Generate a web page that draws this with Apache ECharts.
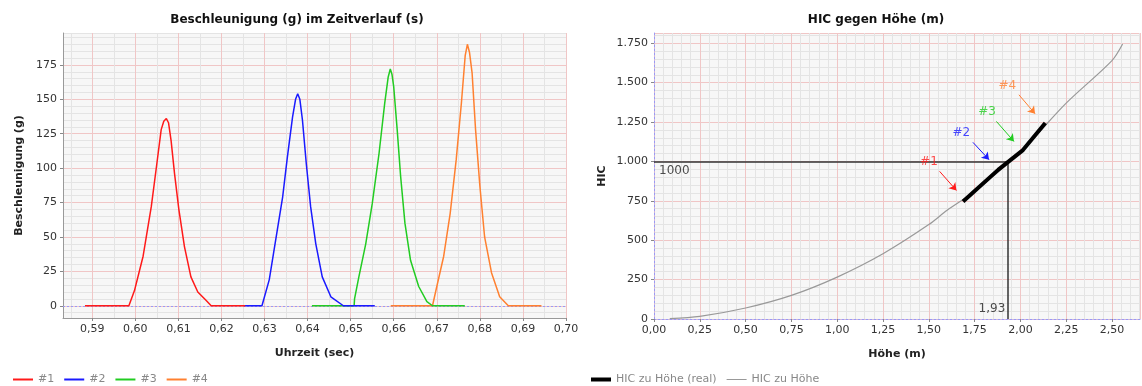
<!DOCTYPE html>
<html><head><meta charset="utf-8">
<script src="https://cdn.jsdelivr.net/npm/echarts@6/dist/echarts.min.js"></script>
<style>html,body{margin:0;padding:0;background:#fff}#c{width:1142px;height:386px}</style>
</head><body><div id="c"></div>
<script>
// ---------- data ----------
const accelNames = ['#1', '#2', '#3', '#4'];
const accel1 = [[0.5883,0],[0.5985,0],[0.5998,11],[0.6018,36],[0.6037,72],[0.6049,101],[0.6060,128],[0.6066,134],[0.6072,136],[0.6077,133],[0.6083,120],[0.6091,96],[0.6101,70],[0.6114,43],[0.6129,21],[0.6145,10],[0.6164,4],[0.6176,0],[0.6255,0]];
const accel2 = [[0.6253,0],[0.6294,0],[0.6311,19],[0.6326,48],[0.6342,79],[0.6353,108],[0.6365,137],[0.6372,150],[0.6377,154],[0.6382,150],[0.6388,135],[0.6397,103],[0.6407,72],[0.6419,45],[0.6434,21],[0.6454,6.5],[0.6483,0],[0.6556,0]];
const accel3 = [[0.6410,0],[0.6508,0],[0.6509,5],[0.6519,21],[0.6535,45],[0.6550,74],[0.6566,111],[0.6579,147],[0.6587,166],[0.6592,172],[0.6596,168],[0.6600,159],[0.6608,128],[0.6616,94],[0.6626,60],[0.6639,33],[0.6658,14],[0.6677,3],[0.6690,0],[0.6765,0]];
const accel4 = [[0.6593,0],[0.6690,0],[0.6700,14],[0.6716,36],[0.6731,67],[0.6745,106],[0.6757,147],[0.6766,182],[0.6771,190],[0.6776,184],[0.6782,169],[0.6790,128],[0.6800,87],[0.6811,50],[0.6827,24],[0.6846,6.5],[0.6866,0],[0.6943,0]];
const accelTicksX = [0.59,0.60,0.61,0.62,0.63,0.64,0.65,0.66,0.67,0.68,0.69,0.70];
const accelTicksY = [0,25,50,75,100,125,150,175];

const hicNames = ['HIC zu Höhe (real)', 'HIC zu Höhe'];
const hicCurve = [[0.086,3],[0.25,17],[0.50,70],[0.75,150],[1.00,266],[1.25,414],[1.50,599],[1.60,690],[1.75,810],[2.00,1060],[2.25,1370],[2.50,1640],[2.558,1745]];
const hicReal = [[1.687,746],[1.880,948],[2.014,1072],[2.136,1244]];
const hicLimit = 1000;
const hicHeight = 1.93;
const pointerLabels = ['#1','#2','#3','#4'];
const pointerText = [[1.501,994],[1.678,1184],[1.818,1313],[1.929,1482]];
const pointerFrom = [[1.559,937],[1.741,1121],[1.869,1254],[1.992,1423]];
const pointerTo = [[1.651,816],[1.829,1011],[1.965,1127],[2.080,1303]];

// ---------- styles ----------
const accelColors = ['#ff1a1a','#1a1aff','#22cc22','#ff8030'];
const FONT = 'DejaVu Sans';
const comma2 = v => v.toFixed(2).replace('.', ',');
const thousands = v => v >= 1000 ? Math.floor(v/1000) + '.' + String(v % 1000).padStart(3, '0') : String(v);
const majorLine = {show:true, lineStyle:{color:'#f0c6c6', width:1}};
const minorLine = {show:true, lineStyle:{color:'#e4e4e4', width:1}};
const labelStyle = {fontFamily:FONT, fontSize:11, color:'#333'};
const nameStyle = {fontFamily:FONT, fontSize:11, fontWeight:'bold', color:'#222'};
const legendText = {fontFamily:FONT, fontSize:11, color:'#888'};

const chart = echarts.init(document.getElementById('c'), null, {renderer:'canvas'});
const L = {xmin:0.5832, xmax:0.70, ymin:-8.9, ymax:198.2};
const R = {xmin:0, xmax:2.653, ymin:0, ymax:1815};

chart.setOption({
  animation:false,
  backgroundColor:'#fff',
  title:[
    {text:'Beschleunigung (g) im Zeitverlauf (s)', left:292, top:9, textAlign:'center',
     textStyle:{fontFamily:FONT, fontSize:12, fontWeight:'bold', color:'#111'}},
    {text:'HIC gegen Höhe (m)', left:871, top:9, textAlign:'center',
     textStyle:{fontFamily:FONT, fontSize:12, fontWeight:'bold', color:'#111'}}
  ],
  legend:[
    {data:accelNames.map(n => ({name:n, icon:'path://M0,0H20V2H0Z'})), left:8, top:369,
     itemWidth:20, itemHeight:8, itemGap:10, textStyle:legendText},
    {data:[{name:hicNames[0], icon:'path://M0,0H20V4H0Z'}, {name:hicNames[1], icon:'path://M0,0H20V1H0Z'}],
     left:586, top:369, itemWidth:20, itemHeight:8, itemGap:10, textStyle:legendText}
  ],
  grid:[
    {left:63, top:33, width:503, height:285, show:true, backgroundColor:'#f7f7f7', borderWidth:0, outerBoundsMode:'none', containLabel:false},
    {left:654, top:33, width:486, height:286, show:true, backgroundColor:'#f7f7f7', borderWidth:0, outerBoundsMode:'none', containLabel:false}
  ],
  xAxis:[
    {type:'value', gridIndex:0, position:'top', min:L.xmin, max:L.xmax, splitNumber:24,
     axisLine:{show:false}, axisTick:{show:false}, axisLabel:{show:false}, splitLine:minorLine},
    {type:'value', gridIndex:0, position:'bottom', min:L.xmin, max:L.xmax,
     axisLine:{onZero:false, lineStyle:{color:'#999'}},
     axisTick:{customValues:accelTicksX, length:3, lineStyle:{color:'#888'}},
     axisLabel:{customValues:accelTicksX, formatter:comma2, margin:6, ...labelStyle},
     splitLine:majorLine,
     name:'Uhrzeit (sec)', nameLocation:'middle', nameGap:30, nameTextStyle:nameStyle},
    {type:'value', gridIndex:1, position:'top', min:R.xmin, max:R.xmax, interval:0.05,
     axisLine:{show:false}, axisTick:{show:false}, axisLabel:{show:false}, splitLine:minorLine},
    {type:'value', gridIndex:1, position:'bottom', min:R.xmin, max:R.xmax, interval:0.25,
     axisLine:{onZero:false, lineStyle:{color:'#9a9af5', type:[2,2]}},
     axisTick:{length:3, lineStyle:{color:'#888'}},
     axisLabel:{formatter:comma2, margin:6, showMaxLabel:false, ...labelStyle},
     splitLine:majorLine,
     name:'Höhe (m)', nameLocation:'middle', nameGap:30, nameTextStyle:nameStyle}
  ],
  yAxis:[
    {type:'value', gridIndex:0, position:'right', min:L.ymin, max:L.ymax, splitNumber:41,
     axisLine:{show:false}, axisTick:{show:false}, axisLabel:{show:false}, splitLine:minorLine},
    {type:'value', gridIndex:0, position:'left', min:L.ymin, max:L.ymax,
     axisLine:{show:true, onZero:false, lineStyle:{color:'#999'}},
     axisTick:{show:true, customValues:accelTicksY, length:3, lineStyle:{color:'#888'}},
     axisLabel:{customValues:accelTicksY, margin:6, ...labelStyle},
     splitLine:majorLine,
     name:'Beschleunigung (g)', nameLocation:'middle', nameGap:38, nameTextStyle:nameStyle},
    {type:'value', gridIndex:1, position:'right', min:R.ymin, max:R.ymax, interval:50,
     axisLine:{show:false}, axisTick:{show:false}, axisLabel:{show:false}, splitLine:minorLine},
    {type:'value', gridIndex:1, position:'left', min:R.ymin, max:R.ymax, interval:250,
     axisLine:{show:true, onZero:false, lineStyle:{color:'#9a9af5', type:[2,2]}},
     axisTick:{show:true, length:3, lineStyle:{color:'#888'}},
     axisLabel:{formatter:thousands, margin:6, showMaxLabel:false, ...labelStyle},
     splitLine:majorLine,
     name:'HIC', nameLocation:'middle', nameGap:46, nameTextStyle:nameStyle}
  ],
  series:[
    ...[accel1, accel2, accel3, accel4].map((d, i) => ({
      name:accelNames[i], type:'line', xAxisIndex:1, yAxisIndex:1, data:d,
      symbol:'none', showSymbol:false,
      color:accelColors[i], lineStyle:{color:accelColors[i], width:1.5},
      z:10 - i,
      markLine: i === 3 ? {silent:true, symbol:'none', z:1, label:{show:false},
        lineStyle:{color:'#9a9af5', type:[2,2], width:1}, data:[{yAxis:0}]} : undefined
    })),
    {name:hicNames[1], type:'line', xAxisIndex:3, yAxisIndex:3, data:hicCurve,
     symbol:'none', showSymbol:false, smooth:0.3, color:'#999',
     lineStyle:{color:'#999', width:1.2}, z:3},
    {type:'lines', coordinateSystem:'cartesian2d', xAxisIndex:3, yAxisIndex:3, silent:true,
     symbol:'none', z:4,
     lineStyle:{color:'#333', width:1.5, opacity:1},
     data:[{coords:[[R.xmin, hicLimit],[hicHeight, hicLimit]]},{coords:[[hicHeight, hicLimit],[hicHeight, R.ymin]]}]},
    {name:hicNames[0], type:'line', xAxisIndex:3, yAxisIndex:3, data:hicReal,
     symbol:'none', showSymbol:false, color:'#000',
     lineStyle:{color:'#000', width:4}, z:5},
    {type:'lines', coordinateSystem:'cartesian2d', xAxisIndex:3, yAxisIndex:3, silent:true,
     symbol:['none','arrow'], symbolSize:7, z:6,
     data:pointerFrom.map((p, i) => ({coords:[p, pointerTo[i]], lineStyle:{color:accelColors[i], width:1, opacity:1}}))},
    {type:'scatter', xAxisIndex:3, yAxisIndex:3, silent:true, symbolSize:0, z:7,
     data:pointerText.map((p, i) => ({value:p, name:pointerLabels[i],
       label:{show:true, position:'inside', formatter:'{b}', color:accelColors[i], fontFamily:FONT, fontSize:12}}))},
    {type:'scatter', xAxisIndex:3, yAxisIndex:3, silent:true, symbolSize:0, z:7,
     data:[
       {value:[R.xmin, hicLimit], label:{show:true, position:[5,3], formatter:String(hicLimit), color:'#222', fontFamily:FONT, fontSize:12}},
       {value:[hicHeight, R.ymin], label:{show:true, position:[-29,-16], formatter:comma2(hicHeight), color:'#222', fontFamily:FONT, fontSize:12}}
     ]}
  ]
});
</script></body></html>
